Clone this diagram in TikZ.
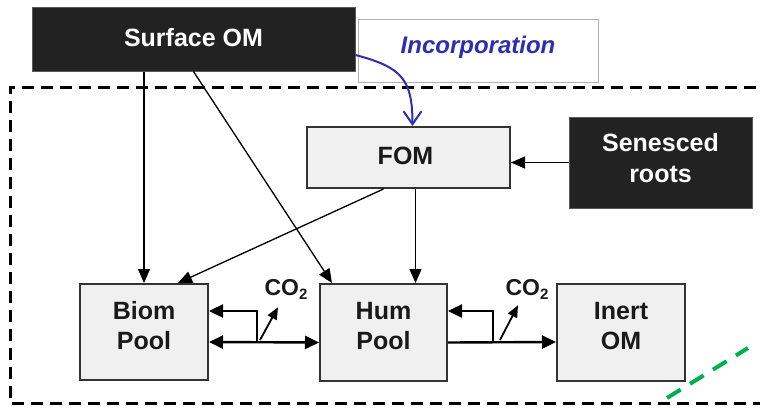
\documentclass[tikz,border=0pt]{standalone}
\usepackage{fontspec}
\setmainfont{Liberation Sans}
\usetikzlibrary{arrows.meta,calc}
\definecolor{boxdark}{HTML}{222222}
\definecolor{boxlight}{HTML}{F0F0F0}
\definecolor{incblue}{HTML}{2E2EB0}
\definecolor{dgreen}{HTML}{00B050}
\begin{document}
\begin{tikzpicture}[x=1pt,y=-1pt,
  darkbox/.style={draw=black!65, fill=boxdark, inner sep=0pt, line width=1pt},
  lightbox/.style={draw=black!80, fill=boxlight, inner sep=0pt, line width=2pt},
  darktext/.style={text=white, font=\fontsize{25}{31}\selectfont\bfseries, align=center, inner sep=0pt},
  lighttext/.style={text=black!90, font=\fontsize{25}{30}\selectfont\bfseries, align=center, inner sep=0pt},
  conn/.style={line width=1.3pt, -{Triangle[length=14pt,width=12pt]}},
  flowtip/.style={-{Triangle[length=14pt,width=13pt]}},
  flow/.style={line width=2.4pt},
  colabel/.style={font=\fontsize{23}{26}\selectfont\bfseries, text=black!90, inner sep=0pt}
]
\useasboundingbox (0,0) rectangle (760,407);
\clip (0,0) rectangle (760,407);
\fill[white] (0,0) rectangle (760,407);

% dashed system boundary
\draw[line width=3pt, dash pattern=on 12pt off 7pt] (775,87) -- (10,87) -- (10,403) -- (775,403);

% nodes
\node[darkbox, minimum width=323pt, minimum height=64pt,
      label={[darktext, yshift=1pt]center:Surface OM}] (surf) at (193.5,39) {};
\node[draw=black!30, fill=white, line width=1pt, minimum width=240pt, minimum height=63pt, inner sep=0pt,
      label={[text=incblue, inner sep=0pt, font=\fontsize{24}{28}\selectfont\bfseries\itshape, yshift=3pt]center:Incorporation}] (inc) at (478,50.5) {};
\node[lightbox, minimum width=203pt, minimum height=61pt,
      label={[lighttext, xshift=-3pt, yshift=2pt]center:FOM}] (fom) at (408.5,157.5) {};
\node[darkbox, minimum width=183pt, minimum height=91pt,
      label={[darktext, yshift=4pt]center:Senesced\\roots}] (sen) at (660.5,162.5) {};
\node[lightbox, minimum width=128pt, minimum height=96pt,
      label={[lighttext, yshift=6pt]center:Biom\\Pool}] (biom) at (144,332) {};
\node[lightbox, minimum width=127pt, minimum height=97pt,
      label={[lighttext, yshift=6pt]center:Hum\\Pool}] (hum) at (383.5,332.5) {};
\node[lightbox, minimum width=128pt, minimum height=97pt,
      label={[lighttext, yshift=6pt]center:Inert\\OM}] (inert) at (621,332.5) {};

% CO2 labels
\node[colabel] (co2a) at (286,289) {CO\raisebox{-4pt}{\fontsize{15}{15}\selectfont 2}};
\node[colabel] (co2b) at (527,289) {CO\raisebox{-4pt}{\fontsize{15}{15}\selectfont 2}};

% incorporation arrow
\draw[incblue, line width=2pt, -{Straight Barb[length=13pt,width=18pt,line width=2pt]}]
  ([yshift=-16pt]surf.east) .. controls +(45,12) and +(0,-48) .. ([xshift=4pt]fom.north);

% connectors from surface OM
\draw[conn] (biom.north |- surf.south) -- (biom.north);
\draw[conn] (surf.south) -- ([xshift=13pt]hum.north west);

% connectors from FOM
\draw[conn] ([xshift=-25pt]fom.south) -- ([xshift=34pt]biom.north);
\draw[conn] ([xshift=7pt]fom.south) -- ([xshift=7pt]fom.south |- hum.north);

% senesced roots to FOM
\draw[conn] (sen.west) -- (fom.east |- sen.west);

% Biom <-> Hum flows
\coordinate (ja) at (257,342);
\coordinate (jb) at (493,342);
\draw[flow, {Triangle[length=14pt,width=13pt]}-{Triangle[length=14pt,width=13pt]}]
  ([yshift=-10pt]biom.east) -- ([yshift=-10pt]hum.west);
\draw[flow, flowtip] (ja) -- (ja |- 0,311) -- ([yshift=21pt]biom.east);
\coordinate (ca) at (260,340);
\draw[line width=1.8pt, -{Triangle[length=12pt,width=10pt]}] (ca) -- ([xshift=-8pt,yshift=-8pt]co2a.south);

% Hum -> Inert flows
\draw[flow, flowtip] ([yshift=-10pt]hum.east) -- ([yshift=-9.5pt]inert.west);
\draw[flow, flowtip] (jb) -- (jb |- 0,311) -- ([yshift=21.5pt]hum.east);
\coordinate (cb) at (500,340);
\draw[line width=1.8pt, -{Triangle[length=12pt,width=10pt]}] (cb) -- ([xshift=-9pt,yshift=-6pt]co2b.south);

% green dashed line
\coordinate (ga) at (667,398);
\coordinate (gb) at (748,348);
\draw[dgreen, line width=4pt, dash pattern=on 16pt off 11pt] (ga) -- (gb);
\end{tikzpicture}
\end{document}
